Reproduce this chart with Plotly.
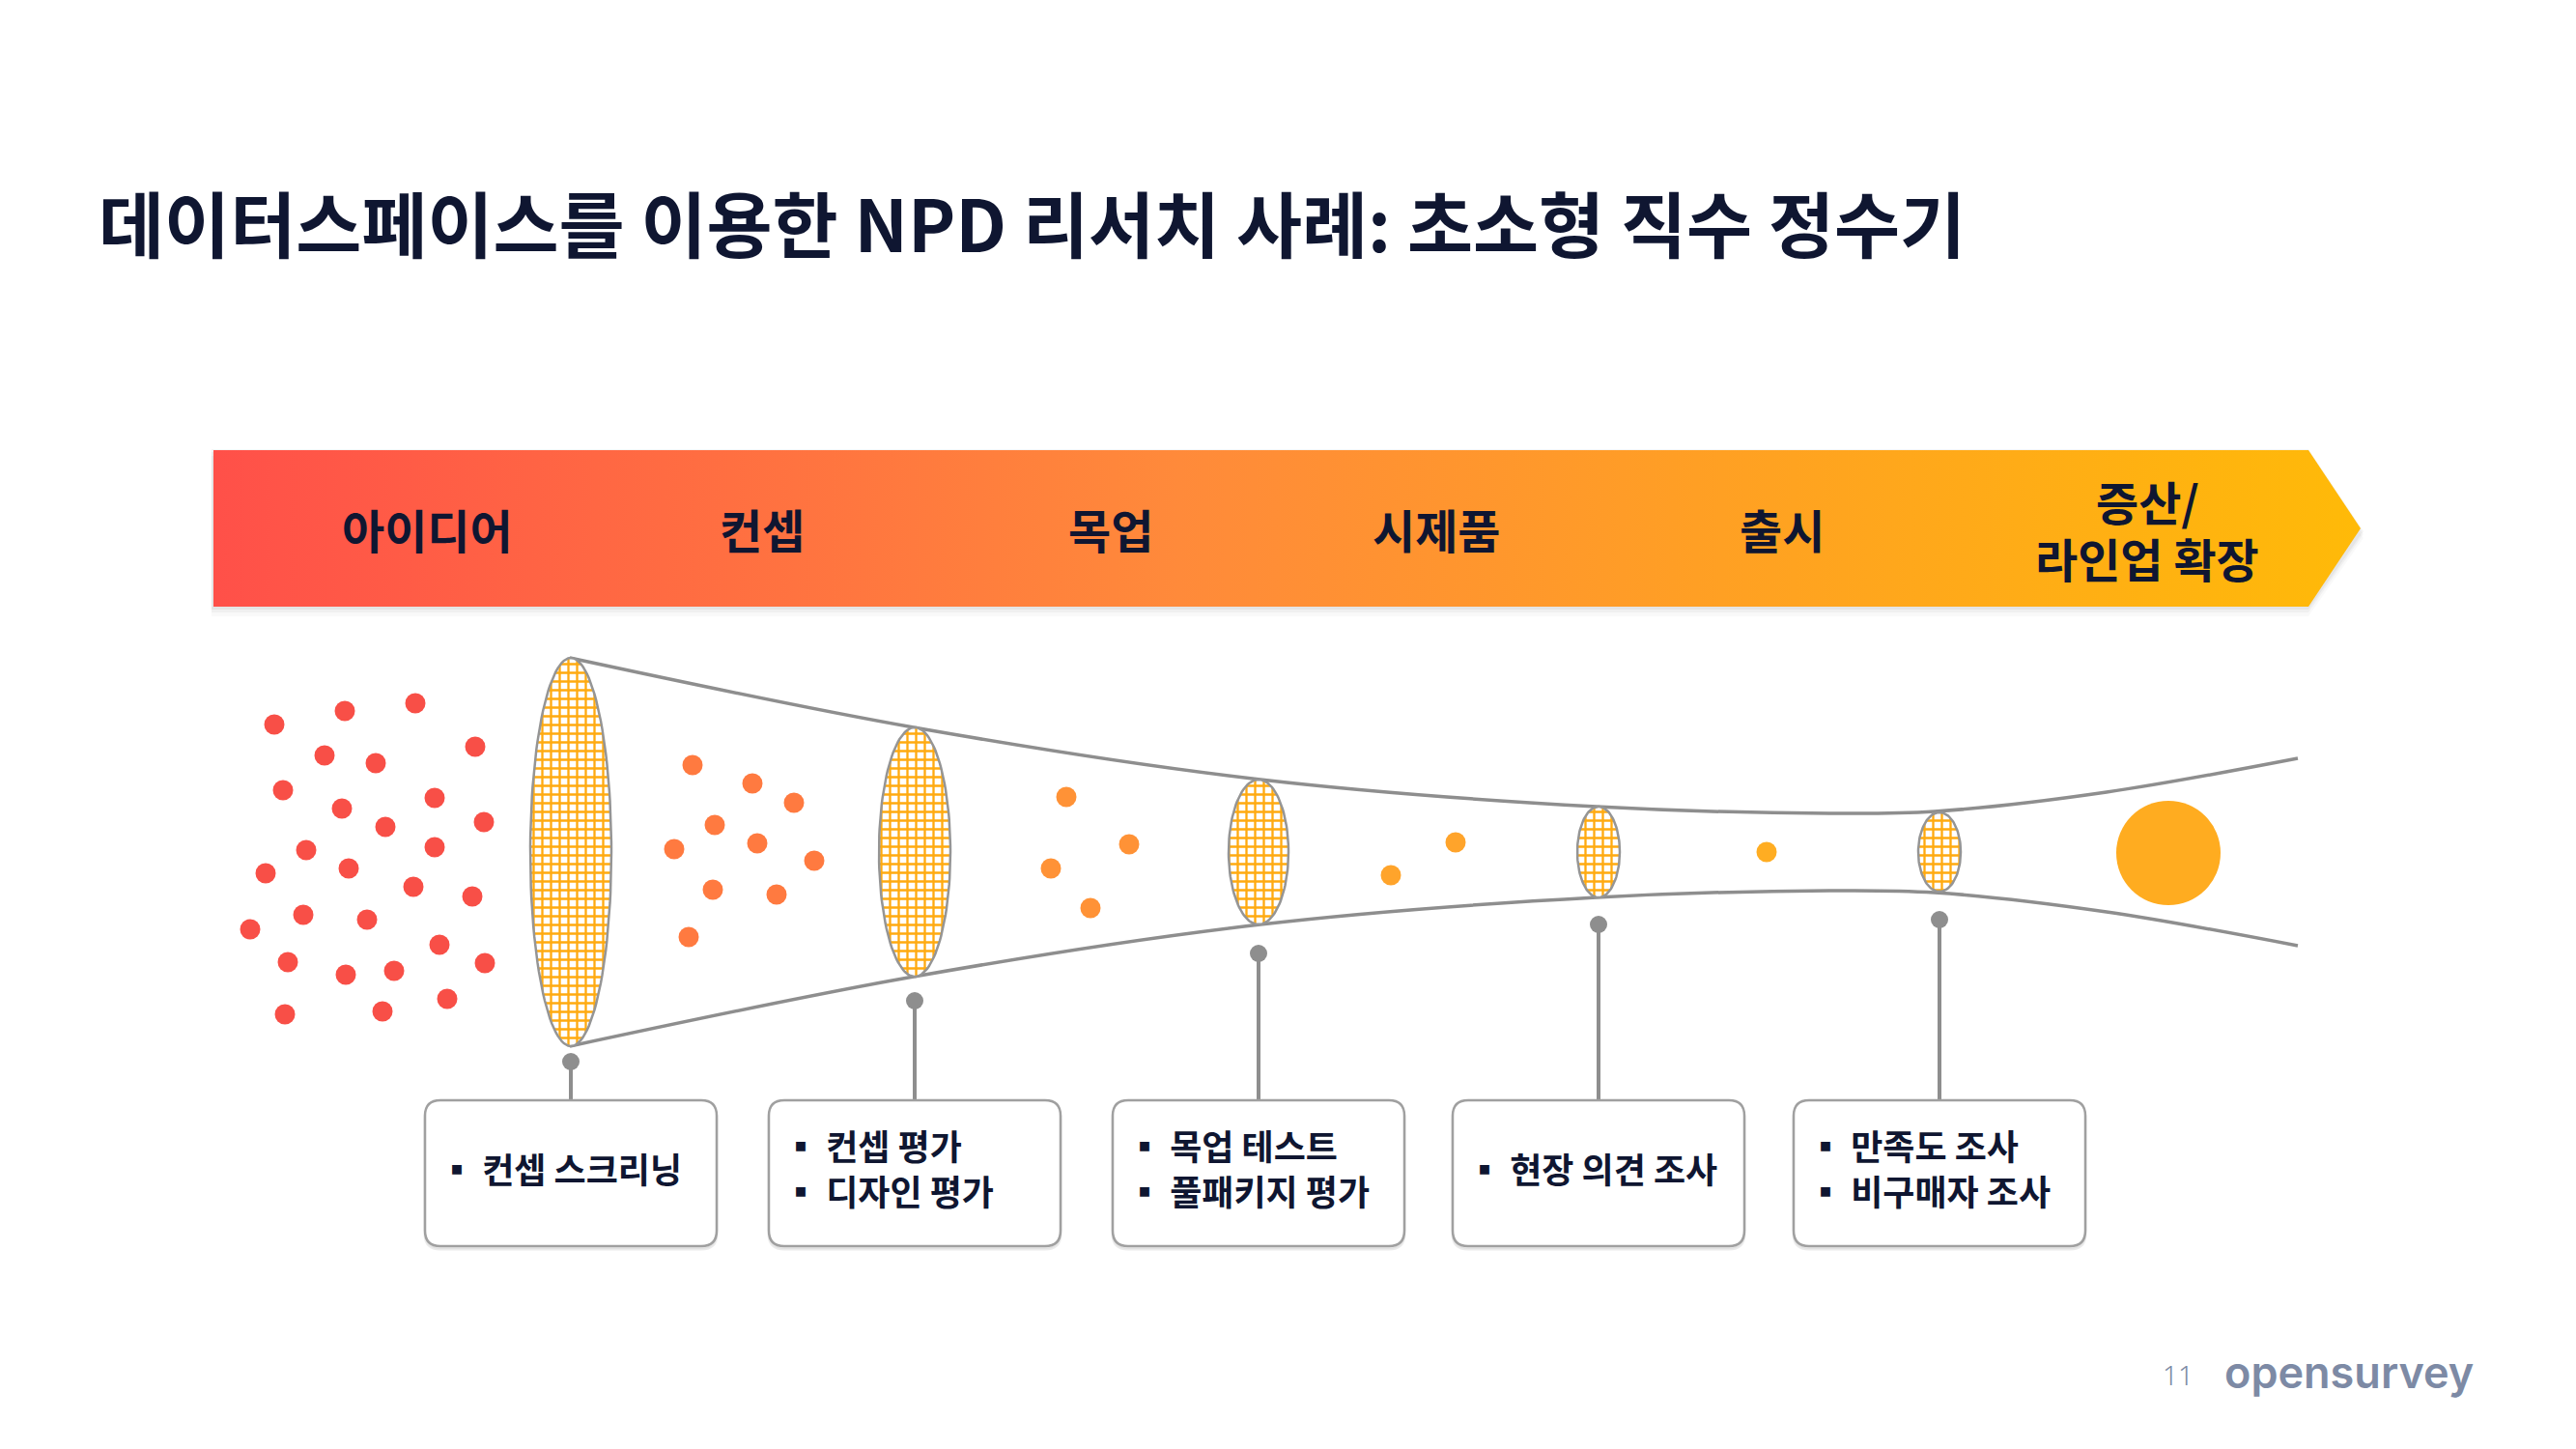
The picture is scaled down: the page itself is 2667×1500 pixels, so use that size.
import numpy as np
import plotly.graph_objects as go

W, H = 2667, 1500
PAD = 8  # default body margin of the html page

# ---- data ----
title = "데이터스페이스를 이용한 NPD 리서치 사례: 초소형 직수 정수기"

stages = [["아이디어"], ["컨셉"], ["목업"], ["시제품"], ["출시"], ["증산/", "라인업 확장"]]
stage_x = [442, 789, 1150, 1487, 1845, 2223]

# research gates (ellipses) along the funnel
gate_x = [591, 947, 1303, 1655, 2008]
gate_half_w = [42, 37, 31, 22, 22]
gate_half_h = [201, 129, 75, 47, 41]
pin_y = [1099, 1036, 987, 957, 952]
gate_notes = [
    ["컨셉 스크리닝"],
    ["컨셉 평가", "디자인 평가"],
    ["목업 테스트", "풀패키지 평가"],
    ["현장 의견 조사"],
    ["만족도 조사", "비구매자 조사"],
]

# funnel outline (half-height around the axis)
funnel_x = [590, 946, 1305, 1653, 1894, 2003, 2181, 2379]
funnel_half = [201, 129, 75, 47, 40, 42, 62, 97]

# idea dots, one cluster per stage gap
idea_x = [284, 357, 430, 492, 336, 389, 293, 354, 399, 450, 501, 317, 361, 450,
          275, 428, 489, 314, 380, 259, 455, 298, 358, 408, 502, 295, 396, 463]
idea_y = [750, 736, 728, 773, 782, 790, 818, 837, 856, 826, 851, 880, 899, 877,
          904, 918, 928, 947, 952, 962, 978, 996, 1009, 1005, 997, 1050, 1047, 1034]
concept_x = [717, 779, 822, 740, 698, 784, 843, 738, 804, 713]
concept_y = [792, 811, 831, 854, 879, 873, 891, 921, 926, 970]
mockup_x = [1104, 1169, 1088, 1129]
mockup_y = [825, 874, 899, 940]
proto_x = [1507, 1440]
proto_y = [872, 906]
launch_x = [1829]
launch_y = [882]
final_x = [2245]
final_y = [883]

page_no = "11"
brand = "opensurvey"

# ---- layout constants ----
AXIS_Y = 882
BAND_X0, BAND_X1, BAND_TIP = 221, 2390, 2444
BAND_Y0, BAND_Y1 = 466, 628
BOX_W, BOX_Y0, BOX_Y1, BOX_R = 302, 1139, 1290, 16
LINE_GAP = 47
STAGE_GAP = 59
NAVY = "#0F1631"
GRAY = "#8E8E8E"
KR = "Noto Sans CJK KR"

fig = go.Figure()

# band shadow
for off, op in [(10, 0.025), (6, 0.035), (3, 0.045)]:
    fig.add_trace(go.Scatter(
        x=[BAND_X0 - 2, BAND_X1, BAND_TIP + 3, BAND_X1, BAND_X0 - 2, BAND_X0 - 2],
        y=[BAND_Y0 + off - 4, BAND_Y0 + off - 4, (BAND_Y0 + BAND_Y1) / 2 + off,
           BAND_Y1 + off, BAND_Y1 + off, BAND_Y0 + off - 4],
        fill="toself", fillcolor=f"rgba(0,0,0,{op})", mode="lines",
        line=dict(width=0), hoverinfo="skip"))

# gradient arrow band
fig.add_trace(go.Scatter(
    x=[BAND_X0, BAND_X1, BAND_TIP, BAND_X1, BAND_X0, BAND_X0],
    y=[BAND_Y0, BAND_Y0, (BAND_Y0 + BAND_Y1) / 2, BAND_Y1, BAND_Y1, BAND_Y0],
    fill="toself", mode="lines", line=dict(width=0),
    fillgradient=dict(type="horizontal",
                      colorscale=[[0, "#FF5049"], [0.45, "#FF8A3A"], [1, "#FFBA08"]]),
    hoverinfo="skip"))

# funnel outline
fx = np.array(funnel_x)
fh = np.array(funnel_half)
for sign in (-1, 1):
    fig.add_trace(go.Scatter(
        x=fx, y=AXIS_Y + sign * fh, mode="lines",
        line=dict(color=GRAY, width=3.5, shape="spline", smoothing=1.0),
        hoverinfo="skip"))

# dots
clusters = [
    (idea_x, idea_y, "#F84F47", 21),
    (concept_x, concept_y, "#FF7A40", 21),
    (mockup_x, mockup_y, "#FF9236", 21),
    (proto_x, proto_y, "#FFA42B", 21),
    (launch_x, launch_y, "#FFAD22", 21),
    (final_x, final_y, "#FFAC20", 108),
]
for cx, cy, col, sz in clusters:
    fig.add_trace(go.Scatter(
        x=cx, y=cy, mode="markers",
        marker=dict(color=col, size=sz, line=dict(width=0)), hoverinfo="skip"))

# gate ellipses with grid fill
t = np.linspace(0, 2 * np.pi, 120)
for gx, hw, hh in zip(gate_x, gate_half_w, gate_half_h):
    fig.add_trace(go.Scatter(
        x=gx + hw * np.cos(t), y=AXIS_Y + hh * np.sin(t),
        mode="lines", fill="toself", line=dict(color="#959595", width=2.5),
        fillpattern=dict(shape="+", fgcolor="#FFAA10", bgcolor="#FFFFFF",
                         fgopacity=1, size=9, solidity=0.45),
        hoverinfo="skip"))

# pins
for gx, py in zip(gate_x, pin_y):
    fig.add_trace(go.Scatter(
        x=[gx, gx], y=[py, BOX_Y0], mode="lines",
        line=dict(color=GRAY, width=4), hoverinfo="skip"))
fig.add_trace(go.Scatter(
    x=gate_x, y=pin_y, mode="markers",
    marker=dict(color=GRAY, size=18), hoverinfo="skip"))

# note boxes
shapes = []
annotations = []
for gx, notes in zip(gate_x, gate_notes):
    x0, x1 = gx - BOX_W / 2, gx + BOX_W / 2
    r = BOX_R

    def rpath(y0, y1):
        return (f"M {x0 + r},{y0} L {x1 - r},{y0} Q {x1},{y0} {x1},{y0 + r} "
                f"L {x1},{y1 - r} Q {x1},{y1} {x1 - r},{y1} L {x0 + r},{y1} "
                f"Q {x0},{y1} {x0},{y1 - r} L {x0},{y0 + r} Q {x0},{y0} {x0 + r},{y0} Z")

    shapes.append(dict(type="path", path=rpath(BOX_Y0 + 3, BOX_Y1 + 3),
                       line=dict(color="rgba(0,0,0,0.08)", width=3),
                       fillcolor="rgba(0,0,0,0.04)", layer="above"))
    shapes.append(dict(type="path", path=rpath(BOX_Y0, BOX_Y1),
                       line=dict(color="#A0A0A0", width=2.5),
                       fillcolor="#FFFFFF", layer="above"))
    mid = (BOX_Y0 + BOX_Y1) / 2 - 6
    n = len(notes)
    for i, note in enumerate(notes):
        annotations.append(dict(
            x=x0 + 14, y=mid + (i - (n - 1) / 2) * LINE_GAP, xref="x", yref="y",
            xanchor="left", yanchor="middle", align="left", showarrow=False,
            text="▪ " + note, borderpad=0,
            font=dict(family=KR, size=36, color=NAVY, weight=700)))

# stage labels
band_mid = (BAND_Y0 + BAND_Y1) / 2
for sx, lines in zip(stage_x, stages):
    n = len(lines)
    for i, s in enumerate(lines):
        annotations.append(dict(
            x=sx, y=band_mid + (i - (n - 1) / 2) * STAGE_GAP, xref="x", yref="y",
            xanchor="center", yanchor="middle", showarrow=False, text=s,
            borderpad=0,
            font=dict(family=KR, size=48, color=NAVY, weight=700)))

# title
annotations.append(dict(
    x=100, y=228, xref="x", yref="y", xanchor="left", yanchor="middle",
    showarrow=False, text=title,
    font=dict(family=KR, size=74, color=NAVY, weight=700)))

# footer
annotations.append(dict(
    x=2255, y=1423, xref="x", yref="y", xanchor="center", yanchor="middle",
    showarrow=False, text=page_no,
    font=dict(family="Noto Sans", size=28, color="#7D8AA5", weight=300)))
annotations.append(dict(
    x=2432, y=1420, xref="x", yref="y", xanchor="center", yanchor="middle",
    showarrow=False, text=brand,
    font=dict(family="Inter", size=45, color="#7D8AA5", weight=600)))

fig.update_layout(
    width=W - 2 * PAD, height=H - 2 * PAD,
    margin=dict(l=0, r=0, t=0, b=0),
    paper_bgcolor="white", plot_bgcolor="white",
    showlegend=False,
    xaxis=dict(range=[PAD, W - PAD], visible=False, fixedrange=True),
    yaxis=dict(range=[H - PAD, PAD], visible=False, fixedrange=True),
    shapes=shapes, annotations=annotations,
)

fig.write_html("out.html")
